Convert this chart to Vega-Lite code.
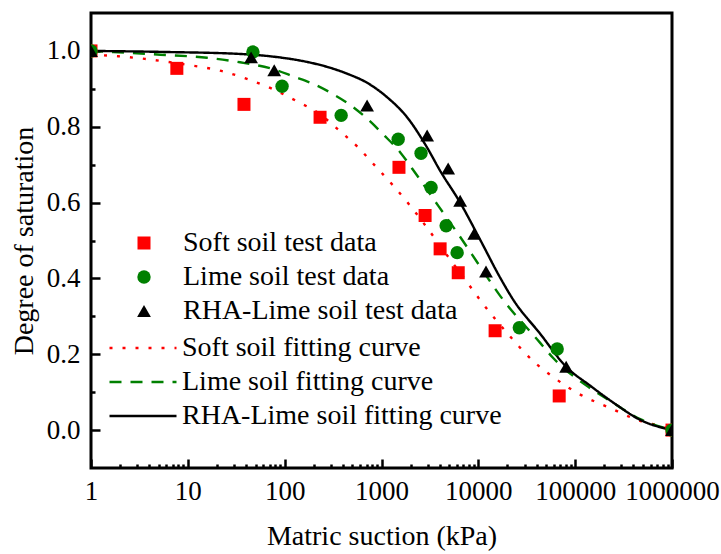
{
  "$schema": "https://vega.github.io/schema/vega-lite/v6.json",
  "width": 581,
  "height": 455,
  "autosize": {"type": "none"},
  "padding": {"left": 91, "top": 13, "right": 49, "bottom": 86},
  "background": "white",
  "config": {
    "view": {"stroke": "black", "strokeWidth": 3},
    "font": "Liberation Serif",
    "axis": {
      "grid": false,
      "domain": false,
      "labelFont": "Liberation Serif",
      "titleFont": "Liberation Serif",
      "labelFontSize": 27,
      "titleFontSize": 28,
      "labelColor": "black",
      "titleColor": "black",
      "titleFontWeight": "normal",
      "tickColor": "black",
      "tickWidth": 2.5,
      "labelOverlap": false,
      "labelBound": false,
      "labelFlush": false
    },
    "legend": {
      "labelFont": "Liberation Serif",
      "labelFontSize": 28,
      "labelColor": "black",
      "labelLimit": 0,
      "orient": "none",
      "padding": 0,
      "rowPadding": 0,
      "clipHeight": 34
    }
  },
  "datasets": {
    "tests": [
      {"s": "Soft soil test data", "x": 1, "y": 1.0},
      {"s": "Soft soil test data", "x": 7.7, "y": 0.954},
      {"s": "Soft soil test data", "x": 38, "y": 0.859},
      {"s": "Soft soil test data", "x": 232, "y": 0.825},
      {"s": "Soft soil test data", "x": 1515, "y": 0.693},
      {"s": "Soft soil test data", "x": 2820, "y": 0.566},
      {"s": "Soft soil test data", "x": 4030, "y": 0.478},
      {"s": "Soft soil test data", "x": 6200, "y": 0.415},
      {"s": "Soft soil test data", "x": 14900, "y": 0.262},
      {"s": "Soft soil test data", "x": 68400, "y": 0.09},
      {"s": "Soft soil test data", "x": 1000000, "y": 0.0},
      {"s": "Lime soil test data", "x": 1, "y": 1.0},
      {"s": "Lime soil test data", "x": 47, "y": 0.997},
      {"s": "Lime soil test data", "x": 94, "y": 0.907},
      {"s": "Lime soil test data", "x": 383, "y": 0.83},
      {"s": "Lime soil test data", "x": 1487, "y": 0.767},
      {"s": "Lime soil test data", "x": 2560, "y": 0.73},
      {"s": "Lime soil test data", "x": 3250, "y": 0.64},
      {"s": "Lime soil test data", "x": 4650, "y": 0.539},
      {"s": "Lime soil test data", "x": 6040, "y": 0.468},
      {"s": "Lime soil test data", "x": 26500, "y": 0.27},
      {"s": "Lime soil test data", "x": 65200, "y": 0.214},
      {"s": "Lime soil test data", "x": 1000000, "y": 0.0},
      {"s": "RHA-Lime soil test data", "x": 1, "y": 1.0},
      {"s": "RHA-Lime soil test data", "x": 45, "y": 0.983},
      {"s": "RHA-Lime soil test data", "x": 78, "y": 0.949},
      {"s": "RHA-Lime soil test data", "x": 710, "y": 0.856},
      {"s": "RHA-Lime soil test data", "x": 2960, "y": 0.777},
      {"s": "RHA-Lime soil test data", "x": 4880, "y": 0.69},
      {"s": "RHA-Lime soil test data", "x": 6490, "y": 0.605},
      {"s": "RHA-Lime soil test data", "x": 9060, "y": 0.518},
      {"s": "RHA-Lime soil test data", "x": 12000, "y": 0.418},
      {"s": "RHA-Lime soil test data", "x": 80700, "y": 0.167},
      {"s": "RHA-Lime soil test data", "x": 1000000, "y": 0.0}
    ],
    "fits": [
      {"c": "Soft soil fitting curve", "x": 1, "y": 0.99},
      {"c": "Soft soil fitting curve", "x": 1.9, "y": 0.986},
      {"c": "Soft soil fitting curve", "x": 3.6, "y": 0.979},
      {"c": "Soft soil fitting curve", "x": 8.9, "y": 0.965},
      {"c": "Soft soil fitting curve", "x": 23.1, "y": 0.946},
      {"c": "Soft soil fitting curve", "x": 41.9, "y": 0.925},
      {"c": "Soft soil fitting curve", "x": 75.9, "y": 0.899},
      {"c": "Soft soil fitting curve", "x": 134, "y": 0.867},
      {"c": "Soft soil fitting curve", "x": 232, "y": 0.833},
      {"c": "Soft soil fitting curve", "x": 348, "y": 0.795},
      {"c": "Soft soil fitting curve", "x": 560, "y": 0.748},
      {"c": "Soft soil fitting curve", "x": 859, "y": 0.697},
      {"c": "Soft soil fitting curve", "x": 1318, "y": 0.645},
      {"c": "Soft soil fitting curve", "x": 1973, "y": 0.592},
      {"c": "Soft soil fitting curve", "x": 3412, "y": 0.512},
      {"c": "Soft soil fitting curve", "x": 4880, "y": 0.457},
      {"c": "Soft soil fitting curve", "x": 7310, "y": 0.397},
      {"c": "Soft soil fitting curve", "x": 10940, "y": 0.336},
      {"c": "Soft soil fitting curve", "x": 19850, "y": 0.256},
      {"c": "Soft soil fitting curve", "x": 36800, "y": 0.182},
      {"c": "Soft soil fitting curve", "x": 59300, "y": 0.14},
      {"c": "Soft soil fitting curve", "x": 105000, "y": 0.098},
      {"c": "Soft soil fitting curve", "x": 230000, "y": 0.058},
      {"c": "Soft soil fitting curve", "x": 437000, "y": 0.027},
      {"c": "Soft soil fitting curve", "x": 893000, "y": 0.005},
      {"c": "Soft soil fitting curve", "x": 1000000, "y": 0.0},
      {"c": "Lime soil fitting curve", "x": 1, "y": 1.0},
      {"c": "Lime soil fitting curve", "x": 1.7, "y": 0.997},
      {"c": "Lime soil fitting curve", "x": 5.2, "y": 0.99},
      {"c": "Lime soil fitting curve", "x": 15.8, "y": 0.982},
      {"c": "Lime soil fitting curve", "x": 34.6, "y": 0.97},
      {"c": "Lime soil fitting curve", "x": 75.9, "y": 0.952},
      {"c": "Lime soil fitting curve", "x": 122, "y": 0.933},
      {"c": "Lime soil fitting curve", "x": 206, "y": 0.911},
      {"c": "Lime soil fitting curve", "x": 316, "y": 0.886},
      {"c": "Lime soil fitting curve", "x": 497, "y": 0.854},
      {"c": "Lime soil fitting curve", "x": 727, "y": 0.819},
      {"c": "Lime soil fitting curve", "x": 1040, "y": 0.78},
      {"c": "Lime soil fitting curve", "x": 1556, "y": 0.733},
      {"c": "Lime soil fitting curve", "x": 2070, "y": 0.69},
      {"c": "Lime soil fitting curve", "x": 3845, "y": 0.592},
      {"c": "Lime soil fitting curve", "x": 6800, "y": 0.502},
      {"c": "Lime soil fitting curve", "x": 10440, "y": 0.431},
      {"c": "Lime soil fitting curve", "x": 16800, "y": 0.354},
      {"c": "Lime soil fitting curve", "x": 43500, "y": 0.23},
      {"c": "Lime soil fitting curve", "x": 59300, "y": 0.19},
      {"c": "Lime soil fitting curve", "x": 133000, "y": 0.116},
      {"c": "Lime soil fitting curve", "x": 229000, "y": 0.077},
      {"c": "Lime soil fitting curve", "x": 469000, "y": 0.029},
      {"c": "Lime soil fitting curve", "x": 1000000, "y": 0.0},
      {"c": "RHA-Lime soil fitting curve", "x": 1, "y": 1.0},
      {"c": "RHA-Lime soil fitting curve", "x": 6.5, "y": 0.997},
      {"c": "RHA-Lime soil fitting curve", "x": 34.6, "y": 0.992},
      {"c": "RHA-Lime soil fitting curve", "x": 75.9, "y": 0.985},
      {"c": "RHA-Lime soil fitting curve", "x": 170, "y": 0.971},
      {"c": "RHA-Lime soil fitting curve", "x": 274, "y": 0.958},
      {"c": "RHA-Lime soil fitting curve", "x": 441, "y": 0.94},
      {"c": "RHA-Lime soil fitting curve", "x": 710, "y": 0.916},
      {"c": "RHA-Lime soil fitting curve", "x": 1142, "y": 0.878},
      {"c": "RHA-Lime soil fitting curve", "x": 1838, "y": 0.825},
      {"c": "RHA-Lime soil fitting curve", "x": 2960, "y": 0.745},
      {"c": "RHA-Lime soil fitting curve", "x": 4030, "y": 0.684},
      {"c": "RHA-Lime soil fitting curve", "x": 6490, "y": 0.6},
      {"c": "RHA-Lime soil fitting curve", "x": 10450, "y": 0.502},
      {"c": "RHA-Lime soil fitting curve", "x": 16800, "y": 0.402},
      {"c": "RHA-Lime soil fitting curve", "x": 22900, "y": 0.344},
      {"c": "RHA-Lime soil fitting curve", "x": 43500, "y": 0.254},
      {"c": "RHA-Lime soil fitting curve", "x": 80700, "y": 0.167},
      {"c": "RHA-Lime soil fitting curve", "x": 143000, "y": 0.117},
      {"c": "RHA-Lime soil fitting curve", "x": 259000, "y": 0.069},
      {"c": "RHA-Lime soil fitting curve", "x": 469000, "y": 0.027},
      {"c": "RHA-Lime soil fitting curve", "x": 1000000, "y": 0.0}
    ]
  },
  "layer": [
    {
      "data": {"name": "fits"},
      "mark": {"type": "line", "clip": true, "interpolate": "monotone", "strokeWidth": 2.4},
      "encoding": {
        "x": {
          "field": "x", "type": "quantitative",
          "scale": {"type": "log", "domain": [1, 1000000], "nice": false},
          "axis": {
            "title": "Matric suction (kPa)",
            "values": [1,2,3,4,5,6,7,8,9,10,20,30,40,50,60,70,80,90,100,200,300,400,500,600,700,800,900,1000,2000,3000,4000,5000,6000,7000,8000,9000,10000,20000,30000,40000,50000,60000,70000,80000,90000,100000,200000,300000,400000,500000,600000,700000,800000,900000,1000000],
            "labelExpr": "abs(log(datum.value)/LN10 - round(log(datum.value)/LN10)) < 0.001 ? format(datum.value, 'd') : ''",
            "tickSize": {"condition": {"test": "abs(log(datum.value)/LN10 - round(log(datum.value)/LN10)) < 0.001", "value": -9}, "value": -4},
            "labelPadding": 19,
            "titlePadding": 13
          }
        },
        "y": {
          "field": "y", "type": "quantitative",
          "scale": {"domain": [-0.1, 1.1], "nice": false, "zero": false},
          "axis": {
            "title": "Degree of saturation",
            "values": [0, 0.1, 0.2, 0.3, 0.4, 0.5, 0.6, 0.7, 0.8, 0.9, 1.0],
            "labelExpr": "round(datum.value*10) % 2 == 1 ? '' : format(datum.value, '.1f')",
            "tickSize": {"condition": {"test": "round(datum.value*10) % 2 == 1", "value": -4}, "value": -9},
            "labelPadding": 20,
            "titlePadding": 8
          }
        },
        "color": {
          "field": "c", "type": "nominal",
          "scale": {"domain": ["Soft soil fitting curve", "Lime soil fitting curve", "RHA-Lime soil fitting curve"], "range": ["#ff0000", "#008000", "#000000"]},
          "legend": {"title": null, "legendX": 17, "legendY": 318, "symbolType": "stroke", "symbolSize": 4489, "symbolStrokeWidth": 2.4, "labelOffset": 4}
        },
        "strokeDash": {
          "field": "c", "type": "nominal",
          "scale": {"domain": ["Soft soil fitting curve", "Lime soil fitting curve", "RHA-Lime soil fitting curve"], "range": [[3, 10], [12, 9], [1, 0]]},
          "legend": {"title": null, "legendX": 17, "legendY": 318, "symbolType": "stroke", "symbolSize": 4489, "symbolStrokeWidth": 2.4, "labelOffset": 4}
        }
      }
    },
    {
      "data": {"name": "tests"},
      "mark": {"type": "point", "filled": true, "opacity": 1, "clip": true, "strokeWidth": 0},
      "encoding": {
        "x": {"field": "x", "type": "quantitative"},
        "y": {"field": "y", "type": "quantitative"},
        "color": {
          "field": "s", "type": "nominal",
          "scale": {"domain": ["Soft soil test data", "Lime soil test data", "RHA-Lime soil test data"], "range": ["#ff0000", "#008000", "#000000"]},
          "legend": {"title": null, "legendX": 39, "legendY": 213, "labelOffset": 25, "symbolStrokeWidth": 0}
        },
        "shape": {
          "field": "s", "type": "nominal",
          "scale": {"domain": ["Soft soil test data", "Lime soil test data", "RHA-Lime soil test data"], "range": ["square", "circle", "triangle-up"]},
          "legend": {"title": null, "legendX": 39, "legendY": 213, "labelOffset": 25, "symbolStrokeWidth": 0}
        },
        "size": {
          "field": "s", "type": "nominal",
          "scale": {"domain": ["Soft soil test data", "Lime soil test data", "RHA-Lime soil test data"], "range": [169, 190, 340]},
          "legend": {"title": null, "legendX": 39, "legendY": 213, "labelOffset": 25, "symbolStrokeWidth": 0}
        }
      }
    }
  ],
  "resolve": {
    "scale": {"color": "independent", "shape": "independent", "size": "independent", "strokeDash": "independent"},
    "legend": {"color": "independent", "shape": "independent", "size": "independent", "strokeDash": "independent"}
  }
}
